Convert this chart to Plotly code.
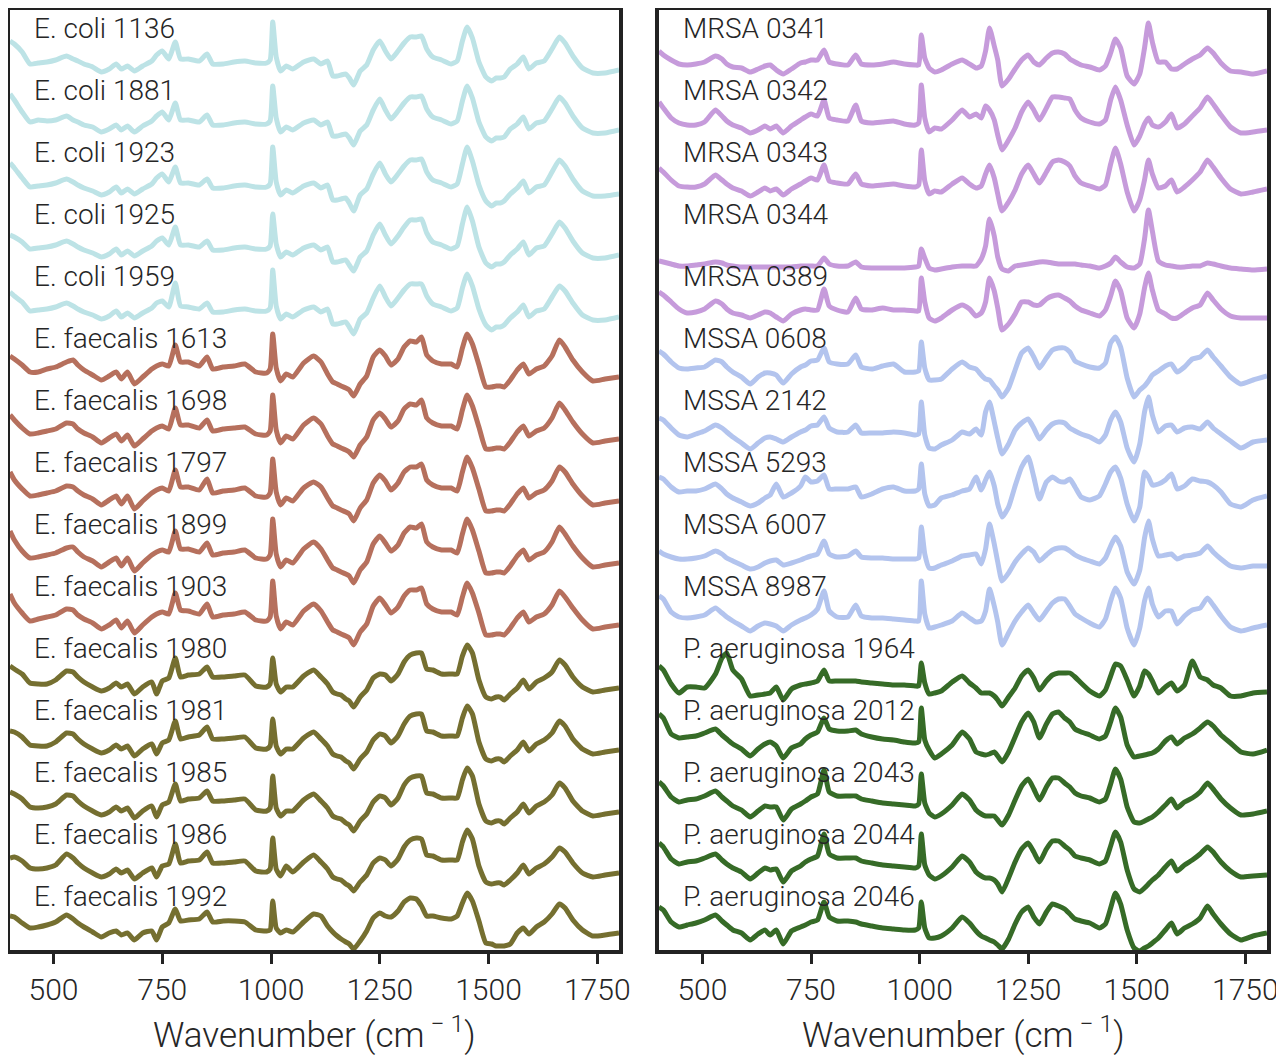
import plotly.graph_objects as go

# Wavenumber grid (cm-1) shared by every spectrum
WAVENUMBER = [400, 410, 428, 446, 465, 485, 505, 530, 545, 556,
              570, 590, 610, 628, 644, 656, 670, 686, 705, 726,
              737, 750, 765, 780, 792, 810, 835, 853, 866, 890,
              915, 940, 965, 990, 998, 1004, 1012, 1022, 1035, 1050,
              1075, 1098, 1115, 1130, 1142, 1152, 1161, 1172, 1180, 1190,
              1205, 1220, 1235, 1250, 1263, 1276, 1292, 1306, 1320, 1334,
              1346, 1358, 1372, 1392, 1414, 1428, 1440, 1451, 1463, 1478,
              1494, 1507, 1518, 1527, 1536, 1550, 1566, 1580, 1593, 1610,
              1628, 1646, 1663, 1676, 1694, 1716, 1740, 1768, 1800]

LEFT_LABELS = ["E. coli 1136", "E. coli 1881", "E. coli 1923", "E. coli 1925", "E. coli 1959",
               "E. faecalis 1613", "E. faecalis 1698", "E. faecalis 1797", "E. faecalis 1899",
               "E. faecalis 1903", "E. faecalis 1980", "E. faecalis 1981", "E. faecalis 1985",
               "E. faecalis 1986", "E. faecalis 1992"]
RIGHT_LABELS = ["MRSA 0341", "MRSA 0342", "MRSA 0343", "MRSA 0344", "MRSA 0389",
                "MSSA 0608", "MSSA 2142", "MSSA 5293", "MSSA 6007", "MSSA 8987",
                "P. aeruginosa 1964", "P. aeruginosa 2012", "P. aeruginosa 2043",
                "P. aeruginosa 2044", "P. aeruginosa 2046"]
TICK_VALUES = [500, 750, 1000, 1250, 1500, 1750]

# Intensities (arbitrary units)
E_COLI_1136 = [27, 24, 16, 4, 5, 6, 8, 12, 9, 7, 4, 1, -4, -1, 4, -1, 2, -3, 2, 7,
               13, 17, 9, 26, 9, 9, 7, 14, 4, 4, 6, 7, 5, 5, 8, 46, 11, -3, 2, -1,
               6, 9, 4, 7, -8, -8, -7, -6, -10, -17, -3, 3, 18, 27, 17, 9, 17, 25, 31, 31,
               32, 19, 11, 8, 4, 7, 27, 41, 30, 6, -9, -13, -10, -10, -9, -1, 4, 11, -1, 5,
               7, 19, 31, 25, 12, 0, -5, -5, -2]
E_COLI_1881 = [36, 30, 18, 8, 10, 9, 10, 14, 10, 8, 5, 3, -2, 1, 5, 0, 4, -2, 4, 9,
               14, 18, 10, 27, 10, 10, 8, 15, 5, 5, 7, 8, 6, 6, 9, 44, 12, -2, 3, 0,
               7, 10, 5, 8, -6, -6, -5, -4, -8, -15, -1, 5, 20, 31, 20, 11, 19, 27, 33, 33,
               34, 21, 13, 10, 6, 9, 29, 44, 32, 8, -7, -11, -8, -8, -7, 1, 6, 13, 1, 7,
               9, 21, 33, 27, 14, 2, -3, -3, 0]
E_COLI_1923 = [29, 24, 14, 5, 6, 7, 9, 13, 10, 7, 4, 1, -3, 0, 5, -1, 3, -2, 3, 8,
               14, 18, 10, 25, 9, 9, 7, 13, 4, 4, 6, 7, 5, 5, 8, 45, 10, -3, 2, -1,
               6, 9, 4, 7, -8, -8, -7, -6, -11, -19, -3, 3, 18, 29, 18, 10, 18, 26, 32, 32,
               33, 20, 12, 9, 5, 8, 28, 45, 31, 7, -9, -14, -11, -11, -9, -2, 4, 11, -1, 5,
               7, 20, 32, 26, 13, 1, -4, -4, -2]
E_COLI_1925 = [19, 17, 12, 5, 6, 7, 9, 13, 10, 7, 4, 1, -3, 0, 5, -1, 3, -2, 3, 8,
               13, 16, 9, 27, 9, 9, 7, 13, 4, 4, 6, 7, 5, 5, 8, 40, 10, -3, 2, -1,
               6, 9, 4, 7, -8, -8, -7, -6, -11, -17, -3, 3, 19, 30, 19, 10, 18, 27, 34, 34,
               35, 21, 12, 9, 5, 8, 30, 47, 33, 7, -9, -13, -10, -10, -8, -1, 5, 12, -1, 6,
               8, 20, 32, 26, 13, 1, -4, -4, -1]
E_COLI_1959 = [24, 20, 14, 5, 6, 7, 9, 13, 10, 7, 4, 1, -3, 0, 5, -1, 3, -2, 3, 8,
               13, 15, 9, 33, 10, 9, 7, 13, 4, 4, 6, 7, 5, 5, 8, 46, 10, -3, 2, -1,
               6, 9, 4, 7, -8, -8, -7, -6, -11, -18, -3, 3, 18, 30, 19, 10, 18, 26, 32, 32,
               32, 20, 12, 9, 5, 8, 28, 42, 30, 7, -9, -14, -11, -11, -9, -2, 4, 11, -1, 5,
               7, 19, 30, 25, 13, 1, -4, -4, -1]
E_FAECALIS_1613 = [22, 19, 13, 6, 6, 9, 11, 16, 18, 13, 8, 3, -2, 2, 6, -1, 6, -6, 1, 9,
                   12, 14, 12, 33, 16, 16, 12, 21, 9, 11, 12, 14, 6, 5, 9, 44, 10, -3, 4, 1,
                   15, 22, 16, 4, -4, -6, -8, -10, -12, -18, -6, 2, 21, 28, 22, 13, 19, 31, 37, 36,
                   41, 23, 17, 14, 14, 11, 30, 44, 34, 13, -9, -9, -8, -8, -9, -2, 8, 14, 4, 9,
                   12, 22, 38, 31, 18, 6, -3, -1, 1]
E_FAECALIS_1698 = [25, 20, 12, 6, 7, 9, 11, 17, 16, 11, 7, 3, -3, 2, 6, -1, 5, -6, 1, 9,
                   12, 14, 11, 32, 15, 15, 12, 20, 9, 11, 12, 13, 6, 5, 9, 45, 10, -3, 4, 1,
                   15, 22, 16, 4, -4, -6, -8, -10, -12, -17, -5, 3, 20, 27, 21, 13, 19, 31, 36, 35,
                   40, 22, 17, 14, 14, 11, 30, 45, 34, 13, -9, -9, -8, -8, -9, -2, 8, 14, 4, 9,
                   12, 22, 37, 30, 18, 6, -3, -1, 1]
E_FAECALIS_1797 = [30, 22, 13, 6, 7, 9, 11, 16, 15, 11, 7, 3, -3, 2, 6, -2, 6, -7, 1, 9,
                   12, 14, 11, 32, 15, 15, 12, 23, 9, 11, 12, 14, 6, 5, 9, 43, 10, -3, 4, 1,
                   14, 20, 15, 4, -4, -6, -8, -10, -12, -19, -6, 2, 19, 27, 21, 12, 19, 30, 35, 35,
                   38, 22, 17, 14, 14, 11, 30, 45, 34, 13, -9, -9, -8, -8, -9, -2, 8, 14, 4, 9,
                   12, 21, 35, 30, 18, 6, -3, -1, 1]
E_FAECALIS_1899 = [33, 24, 13, 6, 7, 9, 11, 16, 17, 12, 7, 3, -3, 2, 6, -2, 6, -7, 1, 9,
                   12, 14, 12, 33, 15, 15, 12, 21, 9, 11, 12, 14, 6, 5, 9, 45, 10, -3, 4, 1,
                   15, 22, 15, 4, -4, -6, -8, -10, -12, -19, -6, 2, 20, 28, 21, 13, 19, 31, 37, 36,
                   40, 22, 17, 14, 14, 11, 30, 45, 34, 13, -9, -9, -8, -8, -9, -2, 8, 14, 4, 9,
                   12, 22, 37, 30, 18, 6, -3, -1, 1]
E_FAECALIS_1903 = [32, 23, 13, 5, 7, 9, 11, 17, 16, 11, 7, 3, -3, 1, 6, -2, 5, -7, 1, 9,
                   12, 14, 12, 33, 16, 15, 12, 22, 9, 11, 12, 14, 6, 5, 9, 45, 10, -3, 4, 1,
                   15, 22, 15, 4, -4, -6, -8, -10, -12, -19, -6, 2, 20, 28, 21, 13, 19, 30, 36, 36,
                   38, 22, 17, 14, 14, 11, 29, 43, 33, 13, -9, -9, -8, -8, -9, -2, 8, 14, 4, 9,
                   12, 21, 35, 29, 18, 6, -3, -1, 1]
E_FAECALIS_1980 = [22, 19, 14, 5, 4, 4, 8, 17, 16, 11, 6, 1, -3, 0, 5, 1, 4, -6, 1, 6,
                   -6, 7, 10, 30, 11, 13, 14, 21, 11, 11, 12, 13, 2, 1, 4, 30, 4, -4, 1, 1,
                   12, 18, 11, 4, -4, -6, -7, -11, -13, -19, -9, -2, 10, 14, 13, 7, 14, 26, 33, 35,
                   35, 19, 18, 14, 14, 14, 32, 43, 35, 8, -9, -11, -9, -9, -12, -6, 0, 8, -1, 6,
                   10, 16, 28, 23, 11, 1, -4, -2, 0]
E_FAECALIS_1981 = [19, 18, 13, 5, 4, 4, 8, 17, 16, 11, 6, 1, -3, 0, 5, 1, 4, -6, 1, 6,
                   -4, 7, 10, 29, 11, 13, 15, 23, 11, 11, 12, 13, 2, 1, 4, 31, 4, -4, 1, 1,
                   12, 18, 11, 4, -4, -6, -7, -11, -13, -19, -9, -2, 10, 16, 14, 7, 14, 26, 34, 36,
                   36, 19, 18, 14, 14, 14, 32, 44, 36, 8, -9, -11, -9, -9, -12, -6, 0, 8, -1, 6,
                   10, 17, 29, 24, 11, 1, -4, -2, 0]
E_FAECALIS_1985 = [20, 18, 13, 5, 4, 5, 8, 17, 16, 11, 6, 1, -3, 0, 5, 1, 4, -6, 1, 6,
                   -5, 7, 10, 28, 11, 13, 14, 21, 11, 11, 12, 13, 2, 1, 4, 36, 4, -4, 1, 1,
                   12, 18, 11, 4, -4, -6, -7, -11, -13, -19, -9, -2, 10, 16, 14, 7, 14, 27, 34, 36,
                   36, 19, 18, 14, 14, 14, 32, 44, 36, 8, -9, -11, -9, -9, -12, -6, 0, 8, -1, 6,
                   10, 17, 29, 24, 11, 1, -4, -2, 0]
E_FAECALIS_1986 = [16, 17, 13, 6, 5, 6, 9, 20, 16, 11, 6, 1, -3, 0, 5, 1, 4, -5, 1, 6,
                   -3, 8, 10, 30, 11, 13, 14, 22, 11, 11, 12, 13, 3, 2, 5, 36, 5, -2, 8, 2,
                   12, 19, 12, 5, -3, -5, -6, -10, -12, -17, -8, -1, 11, 16, 14, 8, 15, 27, 34, 36,
                   35, 19, 18, 14, 14, 14, 32, 44, 35, 8, -8, -10, -9, -9, -11, -6, 1, 9, 0, 6,
                   10, 17, 26, 22, 11, 1, -3, -1, 1]
E_FAECALIS_1992 = [20, 19, 13, 8, 9, 11, 14, 21, 17, 13, 9, 4, -1, 3, 5, 1, 3, -4, 3, 5,
                   -4, 9, 13, 27, 15, 16, 17, 24, 14, 15, 15, 14, 6, 5, 6, 35, 8, 3, 6, 4,
                   14, 22, 20, 10, 4, 0, -3, -6, -8, -13, -5, 5, 18, 23, 20, 19, 25, 34, 38, 37,
                   30, 20, 20, 18, 17, 20, 33, 43, 35, 15, -7, -8, -10, -10, -10, -8, 3, 8, 2, 9,
                   14, 22, 32, 28, 16, 6, 0, 1, 3]

MRSA_0341 = [17, 13, 8, 4, 3, 4, 6, 12, 9, 4, 1, 0, -4, -1, 2, 3, -2, -6, -1, 5,
             6, 8, 8, 18, 6, 4, 3, 13, 4, 3, 4, 6, 4, 3, 3, 33, 10, 0, -4, -2,
             4, 8, 4, 0, 2, 17, 40, 22, 8, -18, -11, -1, 8, 13, 6, 3, 10, 15, 16, 14,
             9, 6, 3, 1, -2, 2, 15, 29, 20, -8, -16, -6, 20, 45, 26, 6, 6, -1, -1, 4,
             9, 13, 20, 15, 5, -3, -4, -6, -3]
MRSA_0342 = [28, 22, 12, 7, 5, 5, 8, 20, 14, 9, 5, 2, -3, 0, 4, 1, 4, -3, 4, 10,
             13, 16, 14, 30, 12, 10, 9, 25, 9, 7, 8, 9, 6, 5, 7, 45, 12, -2, 2, 1,
             10, 20, 13, 16, 12, 24, 20, 10, -5, -20, -10, 2, 18, 28, 20, 10, 22, 33, 33, 32,
             31, 20, 12, 8, 6, 10, 30, 43, 30, 5, -15, -6, 6, 12, 5, 3, 8, 16, 2, 6,
             14, 22, 33, 26, 15, 3, -3, -2, 0]
MRSA_0343 = [24, 20, 12, 6, 5, 5, 8, 17, 12, 8, 4, 1, -4, 0, 4, 1, 3, -3, 3, 8,
             11, 14, 12, 27, 11, 9, 8, 18, 8, 6, 7, 8, 6, 5, 7, 42, 11, -2, 1, 0,
             8, 14, 8, 4, 6, 18, 27, 14, -2, -19, -10, 2, 18, 27, 18, 9, 20, 30, 32, 30,
             26, 16, 9, 6, 3, 7, 28, 44, 28, 0, -19, -8, 12, 32, 18, 4, 6, 12, 0, 5,
             12, 20, 32, 25, 14, 3, -2, 0, 3]
MRSA_0344 = [-7, -8, -10, -12, -12, -11, -10, -8, -9, -11, -12, -13, -13, -13, -13, -13, -13, -13, -13, -12,
             -12, -12, -12, -4, -10, -12, -12, -8, -13, -14, -14, -14, -14, -13, -12, 5, -4, -14, -16, -15,
             -13, -12, -12, -12, -5, 8, 35, 18, -3, -15, -17, -12, -11, -10, -9, -8, -8, -9, -10, -10,
             -10, -10, -11, -12, -14, -12, -9, -3, -8, -13, -14, -10, 15, 44, 23, -7, -11, -12, -13, -13,
             -12, -12, -9, -10, -12, -14, -15, -16, -15]
MRSA_0389 = [24, 21, 14, 7, 3, 4, 7, 15, 12, 7, 3, 1, -2, 1, 4, 3, -1, -5, 2, 6,
             7, 6, 6, 27, 10, 6, 4, 18, 7, 6, 8, 6, 6, 5, 5, 38, 14, -2, -5, -2,
             6, 11, 7, 0, 3, 14, 38, 25, 8, -14, -8, 2, 14, 14, 11, 11, 17, 20, 21, 18,
             15, 10, 6, 3, 0, 6, 20, 35, 25, -2, -12, 2, 28, 43, 26, 6, 2, -2, -2, 3,
             8, 11, 23, 16, 7, 0, -2, -2, -2]
MSSA_0608 = [27, 24, 16, 10, 9, 10, 11, 18, 16, 11, 6, 1, -6, 1, 5, 5, 3, -5, 4, 11,
             13, 17, 18, 30, 16, 14, 14, 23, 11, 9, 12, 14, 6, 6, 7, 36, 10, -2, -2, -1,
             9, 16, 11, 9, 3, -1, -2, -8, -12, -19, -10, 8, 25, 30, 21, 10, 20, 28, 30, 30,
             26, 17, 14, 11, 10, 15, 35, 41, 31, 0, -19, -12, -8, -3, 3, 7, 12, 14, 6, 11,
             19, 21, 28, 21, 12, 1, -6, -2, 2]
MSSA_2142 = [22, 20, 12, 5, 3, 6, 9, 15, 12, 8, 3, -3, -9, -3, 2, 3, 1, -2, 3, 8,
             10, 14, 15, 23, 12, 8, 8, 15, 7, 7, 7, 8, 7, 5, 6, 38, 5, -8, -9, -5,
             0, 8, 6, 11, 5, 28, 38, 18, 2, -14, -4, 10, 17, 21, 12, 1, 10, 16, 18, 17,
             12, 9, 6, 3, -2, 5, 20, 28, 18, -8, -22, -4, 28, 43, 25, 8, 14, 15, 8, 12,
             13, 11, 18, 12, 6, -1, -8, -2, 0]
MSSA_5293 = [25, 23, 15, 10, 11, 11, 13, 18, 13, 8, 4, 0, -4, -1, 4, 7, 18, 5, 9, 16,
             25, 20, 21, 27, 13, 13, 13, 15, 5, 8, 13, 15, 11, 11, 13, 38, 8, -4, -3, 4,
             7, 11, 13, 25, 12, 22, 30, 16, -2, -15, -5, 16, 35, 45, 25, 3, 20, 25, 21, 20,
             23, 15, 5, 2, 6, 18, 30, 35, 24, -2, -19, -5, 30, 25, 17, 18, 22, 28, 13, 16,
             23, 21, 20, 17, 10, -2, -5, 2, 6]
MSSA_6007 = [13, 10, 7, 5, 5, 6, 8, 13, 10, 6, 3, -1, -5, -3, 1, 3, 4, -1, 1, 4,
             6, 8, 10, 23, 10, 7, 8, 13, 7, 6, 6, 5, 5, 5, 6, 37, 10, -4, -4, -1,
             3, 8, 9, 10, 0, 15, 40, 20, 2, -17, -9, 2, 10, 16, 12, 3, 9, 14, 16, 16,
             13, 9, 6, 3, 0, 6, 18, 27, 18, -8, -20, -6, 26, 43, 25, 8, 9, 10, 5, 8,
             9, 11, 18, 12, 5, -2, -4, -2, -2]
MSSA_8987 = [30, 27, 14, 9, 8, 9, 11, 18, 13, 9, 5, 0, -5, 0, 3, 2, 0, -5, 1, 6,
             8, 11, 17, 35, 15, 9, 9, 21, 10, 8, 8, 7, 6, 5, 5, 45, 12, -2, -1, 1,
             5, 13, 8, 4, 5, 15, 37, 20, 4, -19, -7, 5, 14, 21, 13, 6, 15, 23, 27, 27,
             20, 12, 8, 3, -1, 7, 25, 38, 28, -2, -19, -2, 25, 38, 22, 9, 15, 15, 2, 10,
             16, 18, 28, 21, 10, -1, -5, -2, 1]
P_AERUGINOSA_1964 = [22, 18, 4, -5, 1, 1, 0, 14, 30, 35, 18, 9, -8, -7, -6, -5, 1, -12, -1, 3,
                     4, 5, 7, 18, 7, 7, 7, 7, 6, 5, 4, 3, 3, 2, 2, 25, 5, -6, -5, -3,
                     6, 12, 5, 0, -5, -5, -5, -8, -12, -18, -9, 0, 12, 18, 10, -2, 7, 13, 15, 15,
                     15, 11, 5, -3, -8, -2, 12, 24, 22, 8, -8, 2, 17, 14, 7, -5, 1, 5, -3, 3,
                     27, 11, 8, 3, 0, -8, -8, -5, -4]
P_AERUGINOSA_2012 = [36, 32, 16, 12, 13, 14, 17, 21, 15, 11, 6, 1, -6, 1, 6, 8, 4, -8, 2, 6,
                     11, 15, 18, 32, 21, 19, 19, 20, 16, 13, 11, 10, 8, 7, 8, 42, 10, 0, -8, -4,
                     5, 18, 11, -2, -4, -5, -4, -2, -6, -12, -2, 13, 28, 37, 28, 12, 26, 36, 38, 32,
                     28, 21, 18, 15, 11, 14, 28, 42, 33, 5, -7, -6, -5, -4, -3, 1, 9, 13, 6, 12,
                     16, 22, 28, 24, 15, 7, -2, -4, 0]
P_AERUGINOSA_2043 = [30, 26, 15, 10, 12, 13, 16, 21, 15, 11, 6, 2, -5, 1, 6, 5, 5, -8, 3, 8,
                     11, 15, 18, 42, 20, 16, 16, 16, 13, 11, 9, 8, 7, 6, 8, 38, 9, -1, -5, -2,
                     7, 18, 12, 2, -2, -4, -4, -4, -8, -13, -3, 12, 26, 33, 23, 12, 25, 34, 34, 29,
                     25, 19, 16, 14, 10, 13, 28, 43, 33, 5, -10, -11, -9, -7, -5, 0, 7, 13, 4, 10,
                     14, 20, 29, 23, 13, 4, -3, -2, 1]
P_AERUGINOSA_2044 = [31, 27, 15, 10, 12, 13, 16, 20, 14, 10, 6, 2, -5, 1, 6, 4, 5, -8, 3, 8,
                     12, 15, 18, 40, 20, 16, 16, 16, 13, 11, 9, 8, 7, 6, 8, 40, 9, -1, -5, -2,
                     7, 18, 12, 2, -2, -4, -4, -6, -10, -18, -4, 12, 25, 31, 22, 12, 25, 33, 33, 28,
                     24, 18, 16, 14, 10, 13, 28, 42, 32, 4, -15, -18, -14, -10, -6, -1, 7, 13, 3, 9,
                     14, 20, 27, 22, 12, 3, -3, -2, -1]
P_AERUGINOSA_2046 = [29, 26, 14, 9, 11, 13, 16, 21, 15, 11, 6, 3, -4, 2, 6, 1, 6, -8, 5, 9,
                     11, 14, 16, 34, 19, 15, 15, 14, 12, 10, 8, 7, 6, 6, 8, 34, 8, -2, -2, 0,
                     8, 19, 13, 5, 0, -2, -4, -6, -9, -13, -3, 12, 24, 29, 19, 12, 24, 32, 30, 27,
                     22, 17, 15, 13, 8, 12, 28, 43, 32, 6, -12, -15, -12, -10, -7, -2, 6, 13, 2, 8,
                     12, 18, 30, 22, 12, 2, -4, 0, 3]

LEFT_SPECTRA = [E_COLI_1136, E_COLI_1881, E_COLI_1923, E_COLI_1925, E_COLI_1959,
                E_FAECALIS_1613, E_FAECALIS_1698, E_FAECALIS_1797, E_FAECALIS_1899, E_FAECALIS_1903,
                E_FAECALIS_1980, E_FAECALIS_1981, E_FAECALIS_1985, E_FAECALIS_1986, E_FAECALIS_1992]
RIGHT_SPECTRA = [MRSA_0341, MRSA_0342, MRSA_0343, MRSA_0344, MRSA_0389,
                 MSSA_0608, MSSA_2142, MSSA_5293, MSSA_6007, MSSA_8987,
                 P_AERUGINOSA_1964, P_AERUGINOSA_2012, P_AERUGINOSA_2043,
                 P_AERUGINOSA_2044, P_AERUGINOSA_2046]

for nm, arr in list(zip(LEFT_LABELS, LEFT_SPECTRA)) + list(zip(RIGHT_LABELS, RIGHT_SPECTRA)):
    assert len(arr) == len(WAVENUMBER), (nm, len(arr))

# Styling
C_ECOLI, C_EF1, C_EF2 = "#bde3e6", "#b6705d", "#756f30"
C_MRSA, C_MSSA, C_PA = "#c69bdb", "#b3c4ee", "#366b27"
LEFT_COLORS = [C_ECOLI] * 5 + [C_EF1] * 5 + [C_EF2] * 5
RIGHT_COLORS = [C_MRSA] * 5 + [C_MSSA] * 5 + [C_PA] * 5

# The page body adds an 8 px margin; lay out in page pixels and convert.
PAGE_OFF = 8
W, H = 1276, 1049
PLOT_TOP, PLOT_BOT = 10, 950          # page pixels
STEP = 62
FONT = "Roboto"
WEIGHT = 300
INK = "#262626"


def py(page_y):
    return 1 - (page_y - PAGE_OFF) / H


def px(page_x):
    return (page_x - PAGE_OFF) / W


fig = go.Figure()
annotations = []
for labels, spectra, colors, xa, ya in [
        (LEFT_LABELS, LEFT_SPECTRA, LEFT_COLORS, "x", "y"),
        (RIGHT_LABELS, RIGHT_SPECTRA, RIGHT_COLORS, "x2", "y2")]:
    for i, (lab, spec, col) in enumerate(zip(labels, spectra, colors)):
        base = 882 - STEP * i
        fig.add_trace(go.Scatter(
            x=WAVENUMBER, y=[v + base for v in spec], mode="lines",
            line=dict(color=col, width=5, shape="spline", smoothing=0.5),
            xaxis=xa, yaxis=ya, showlegend=False, hoverinfo="skip"))
        annotations.append(dict(
            text=lab, xref=xa + " domain", yref=ya, x=0.036, y=922 - STEP * i,
            xanchor="left", yanchor="middle", showarrow=False,
            font=dict(family=FONT, size=28, color=INK, weight=WEIGHT)))

ydom = [py(PLOT_BOT), py(PLOT_TOP)]
left_dom = [px(10), px(619)]
right_dom = [px(659), px(1267)]

for dom in (left_dom, right_dom):
    annotations.append(dict(
        text="Wavenumber (cm<sup> − 1</sup>)", xref="paper", yref="paper",
        x=(dom[0] + dom[1]) / 2, y=py(1032), xanchor="center", yanchor="middle",
        showarrow=False, font=dict(family=FONT, size=35, color=INK, weight=WEIGHT)))

xcommon = dict(range=[400, 1800], showgrid=False, zeroline=False, showline=True, mirror=True,
               linecolor="#222222", linewidth=4, ticks="outside", ticklen=10, tickwidth=3,
               tickcolor="#222222", tickvals=TICK_VALUES, automargin=False,
               tickfont=dict(family=FONT, size=30, color=INK, weight=WEIGHT),
               ticklabelstandoff=0)
ycommon = dict(range=[0, PLOT_BOT - PLOT_TOP], showgrid=False, zeroline=False, showline=True,
               mirror=True, linecolor="#222222", linewidth=4, showticklabels=False,
               ticks="", domain=ydom, automargin=False)

fig.update_layout(
    width=W, height=H, autosize=False,
    margin=dict(l=0, r=0, t=0, b=0, pad=0),
    paper_bgcolor="white", plot_bgcolor="white",
    xaxis=dict(domain=left_dom, anchor="y", **xcommon),
    yaxis=dict(anchor="x", **ycommon),
    xaxis2=dict(domain=right_dom, anchor="y2", **xcommon),
    yaxis2=dict(anchor="x2", **ycommon),
    annotations=annotations,
)

fig.write_html("out.html")
